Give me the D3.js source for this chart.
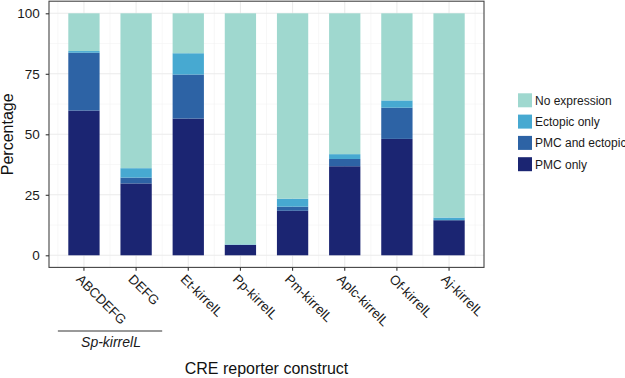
<!DOCTYPE html>
<html>
<head>
<meta charset="utf-8">
<script src="https://cdn.jsdelivr.net/npm/d3@7"></script>
<style>
  html, body { margin: 0; padding: 0; background: #fff; }
  svg { display: block; font-family: "Liberation Sans", Arial, Helvetica, sans-serif; }
</style>
</head>
<body>
<svg id="chart" width="625" height="378"></svg>
<script>
const categories = ["ABCDEFG", "DEFG", "Et-kirrelL", "Pp-kirrelL", "Pm-kirrelL", "Aplc-kirrelL", "Of-kirrelL", "Aj-kirrelL"];
const seriesNames = ["PMC only", "PMC and ectopic", "Ectopic only", "No expression"];
const pmcOnly      = [59.8, 29.7, 56.5, 4.3, 18.4, 36.8, 48.1, 14.5];
const pmcAndEctopic = [23.9, 2.4, 18.2, 0.0, 1.7, 3.0, 12.9, 0.0];
const ectopicOnly  = [0.7, 3.9, 8.8, 0.2, 3.3, 2.0, 3.0, 1.1];
const noExpression = categories.map((c, i) => 100 - pmcOnly[i] - pmcAndEctopic[i] - ectopicOnly[i]);
const yTicks = [0, 25, 50, 75, 100];
const groupLabel = "Sp-kirrelL";
const groupMembers = ["ABCDEFG", "DEFG"];

const colors = {
  "PMC only": "#1b2572",
  "PMC and ectopic": "#2d63a5",
  "Ectopic only": "#47a9d1",
  "No expression": "#9fd8cf"
};

const svg = d3.select("#chart");
const L = 49, R = 484, T = 1.2, B = 267.4;

const x = d3.scaleBand().domain(categories).range([L, R]).paddingInner(0.4).paddingOuter(0.37);
const y = d3.scaleLinear().domain([-5, 105]).range([B, T]);

svg.append("rect").attr("x", L).attr("y", T).attr("width", R - L).attr("height", B - T).attr("fill", "#fff");

// minor grid
const minorY = [12.5, 37.5, 62.5, 87.5];
svg.append("g").selectAll("line").data(minorY).join("line")
  .attr("x1", L).attr("x2", R).attr("y1", d => y(d)).attr("y2", d => y(d))
  .attr("stroke", "#f2f2f2").attr("stroke-width", 0.6);
const minorX = categories.slice(0, -1).map(c => x(c) + x.bandwidth() / 2 + x.step() / 2);
minorX.unshift(x(categories[0]) + x.bandwidth() / 2 - x.step() / 2);
minorX.push(x(categories[categories.length - 1]) + x.bandwidth() / 2 + x.step() / 2);
svg.append("g").selectAll("line").data(minorX.filter(v => v > L && v < R)).join("line")
  .attr("x1", d => d).attr("x2", d => d).attr("y1", T).attr("y2", B)
  .attr("stroke", "#f2f2f2").attr("stroke-width", 0.6);
// major grid
svg.append("g").selectAll("line").data(yTicks).join("line")
  .attr("x1", L).attr("x2", R).attr("y1", d => y(d)).attr("y2", d => y(d))
  .attr("stroke", "#ebebeb").attr("stroke-width", 1.1);
svg.append("g").selectAll("line").data(categories).join("line")
  .attr("x1", d => x(d) + x.bandwidth() / 2).attr("x2", d => x(d) + x.bandwidth() / 2)
  .attr("y1", T).attr("y2", B)
  .attr("stroke", "#ebebeb").attr("stroke-width", 1.1);

// stacked bars
const table = categories.map((c, i) => ({
  cat: c,
  "PMC only": pmcOnly[i],
  "PMC and ectopic": pmcAndEctopic[i],
  "Ectopic only": ectopicOnly[i],
  "No expression": noExpression[i]
}));
const stack = d3.stack().keys(seriesNames)(table);
svg.append("g").selectAll("g").data(stack).join("g")
  .attr("fill", d => colors[d.key])
  .selectAll("rect").data(d => d).join("rect")
  .attr("x", d => x(d.data.cat))
  .attr("width", x.bandwidth())
  .attr("y", d => y(d[1]))
  .attr("height", d => Math.max(0, y(d[0]) - y(d[1])));

// panel border
svg.append("rect").attr("x", L).attr("y", T).attr("width", R - L).attr("height", B - T)
  .attr("fill", "none").attr("stroke", "#444").attr("stroke-width", 1.1);

// y axis
const yAxis = d3.axisLeft(y).tickValues(yTicks).tickSize(3.3).tickPadding(6);
const gy = svg.append("g").attr("transform", `translate(${L},0)`).call(yAxis);
gy.select(".domain").remove();
gy.selectAll(".tick line").attr("stroke", "#333").attr("stroke-width", 1.1);
gy.selectAll(".tick text").attr("fill", "#1a1a1a").style("font-size", "13.5px").style("font-family", "Liberation Sans, Arial, sans-serif");

// x axis
const xAxis = d3.axisBottom(x).tickSize(3.3).tickPadding(0);
const gx = svg.append("g").attr("transform", `translate(0,${B})`).call(xAxis);
gx.select(".domain").remove();
gx.selectAll(".tick line").attr("stroke", "#333").attr("stroke-width", 1.1);
gx.selectAll(".tick text")
  .attr("fill", "#1a1a1a")
  .style("font-size", "13.3px").style("font-family", "Liberation Sans, Arial, sans-serif")
  .attr("text-anchor", "start")
  .attr("x", 0).attr("y", 0).attr("dy", 12)
  .attr("transform", "translate(0,4) rotate(45)");

// group annotation
const gx0 = x(groupMembers[0]) + x.bandwidth() / 2 - x.step() / 2;
const gx1 = x(groupMembers[groupMembers.length - 1]) + x.bandwidth() / 2 + x.step() / 2;
svg.append("line").attr("x1", gx0).attr("x2", gx1).attr("y1", 331).attr("y2", 331)
  .attr("stroke", "#777").attr("stroke-width", 1.3);
svg.append("text").attr("x", (gx0 + gx1) / 2 + 1).attr("y", 347)
  .attr("text-anchor", "middle").attr("font-style", "italic").attr("font-size", 14).attr("fill", "#1a1a1a")
  .text(groupLabel);

// axis titles
svg.append("text").attr("x", (L + R) / 2).attr("y", 374).attr("text-anchor", "middle")
  .attr("font-size", 16).attr("fill", "#111").text("CRE reporter construct");
svg.append("text").attr("transform", `translate(13,${(T + B) / 2}) rotate(-90)`).attr("text-anchor", "middle")
  .attr("font-size", 16).attr("fill", "#111").text("Percentage");

// legend
const legendOrder = ["No expression", "Ectopic only", "PMC and ectopic", "PMC only"];
const lg = svg.append("g").attr("transform", "translate(518,93.3)");
const rows = lg.selectAll("g").data(legendOrder).join("g").attr("transform", (d, i) => `translate(0,${i * 21.3})`);
rows.append("rect").attr("width", 14).attr("height", 14).attr("fill", d => colors[d]);
rows.append("text").attr("x", 17).attr("y", 7).attr("dy", "0.36em").attr("font-size", 12).attr("fill", "#1a1a1a").text(d => d);
</script>
</body>
</html>
